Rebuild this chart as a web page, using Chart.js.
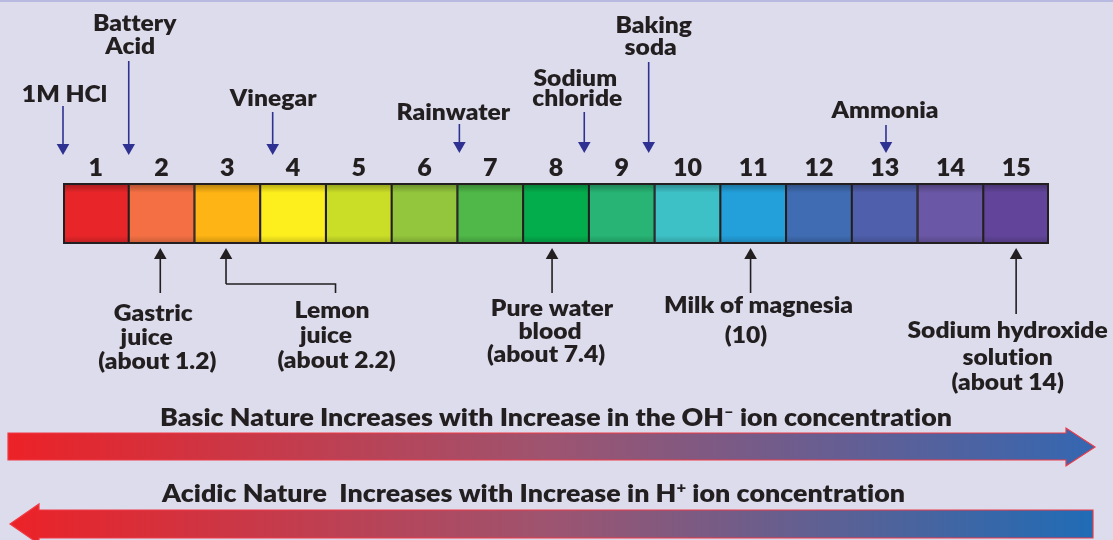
<!DOCTYPE html>
<html>
<head>
<meta charset="utf-8">
<script src="https://cdn.jsdelivr.net/npm/chart.js@4.4.1/dist/chart.umd.min.js"></script>
<style>
  html, body { margin: 0; padding: 0; background: #dddcec; }
  #wrap { width: 1113px; height: 540px; position: relative; }
  canvas { display: block; }
</style>
</head>
<body>
<div id="wrap"><canvas id="c" width="1113" height="540"></canvas></div>
<script>
// ---------- DATA ----------
const phLabels = ['1','2','3','4','5','6','7','8','9','10','11','12','13','14','15'];
const cellValues = [1,1,1,1,1,1,1,1,1,1,1,1,1,1,1];
const cellColors = ['#e82629','#f47044','#fdb414','#fdee1e','#cade28','#93c63d','#4fb848',
                    '#04ad4c','#27b474','#3ec1c6','#239fda','#3f6cb2','#4f5fab','#6a57a5','#62459a'];

const topNames = [['1M HCl'], ['Battery','Acid'], ['Vinegar'], ['Rainwater'],
                  ['Sodium','chloride'], ['Baking','soda'], ['Ammonia']];
const topPH = [0.5, 1.5, 3.69, 6.53, 8.43, 9.41, 13.02];

const bottomNames = [['Gastric','juice','(about 1.2)'], ['Lemon','juice','(about 2.2)'],
                     ['Pure water','blood','(about 7.4)'], ['Milk of magnesia','(10)'],
                     ['Sodium hydroxide','solution','(about 14)']];
const bottomPH = [1.98, 2.98, 7.94, 10.96, 15.0];

const basicCaption = [{t:'Basic Nature Increases with Increase in the OH'}, {t:'\u2013', sup:true}, {t:' ion concentration'}];
const acidicCaption = [{t:'Acidic Nature  Increases with Increase in H'}, {t:'+', sup:true}, {t:' ion concentration'}];

// ---------- LAYOUT (positions / styles) ----------
const FONT = 'Lato, "Open Sans", sans-serif';
const LABEL_WEIGHT = 800;
const LABEL_STRETCH = 1.07;
const TEXT = '#231f20';
const BLUE = '#2e3192';
const topLayout = [
  {base:[101.5], dx:[1.5], y0:106, tip:155},
  {base:[31,54], dx:[6,1.5], y0:61, tip:155},
  {base:[106], dx:[0.5], y0:112, tip:155},
  {base:[120], dx:[-6], y0:124, tip:153},
  {base:[86,105.5], dx:[-9,-7], y0:112, tip:153},
  {base:[33,55], dx:[5,2], y0:62, tip:153},
  {base:[118], dx:[-1], y0:125, tip:153}
];
const bottomLayout = [
  {base:[321,345,369], dx:[-7,-13.6,-3], tip:248, end:293},
  {base:[318,343,368], dx:[106,100,110.5], tip:248, end:293, elbowY:284, elbowDx:109.5},
  {base:[316,339,362], dx:[0,-2,-6], tip:248, end:293},
  {base:[312.7,343], dx:[8,-4.5], tip:248, end:293},
  {base:[338,364.5,390], dx:[-8.5,-8.5,-8.5], tip:248, end:314}
];

function shade(hex, f) {
  const n = parseInt(hex.slice(1), 16);
  const r = Math.round(((n >> 16) & 255) * f), g = Math.round(((n >> 8) & 255) * f), b = Math.round((n & 255) * f);
  return `rgb(${r},${g},${b})`;
}

function drawArrow(ctx, x, yFrom, yTip, color) {
  const dir = Math.sign(yTip - yFrom);
  const hl = 11, hw = 6.3;
  ctx.save();
  ctx.strokeStyle = color; ctx.fillStyle = color; ctx.lineWidth = 1.6;
  ctx.beginPath(); ctx.moveTo(x, yFrom); ctx.lineTo(x, yTip - dir * hl); ctx.stroke();
  ctx.beginPath(); ctx.moveTo(x, yTip); ctx.lineTo(x - hw, yTip - dir * hl); ctx.lineTo(x + hw, yTip - dir * hl);
  ctx.closePath(); ctx.fill();
  ctx.restore();
}

function stretchText(ctx, s, x, y) {
  ctx.save();
  ctx.translate(x, y);
  ctx.scale(LABEL_STRETCH, 1);
  ctx.fillText(s, 0, 0);
  ctx.restore();
}

function drawCaption(ctx, runs, cx, baseline, targetW) {
  ctx.save();
  if ('letterSpacing' in ctx) ctx.letterSpacing = '0.01px';
  const big = `${LABEL_WEIGHT} 24px ${FONT}`, small = `${LABEL_WEIGHT} 15px ${FONT}`;
  let w = 0;
  runs.forEach(r => { ctx.font = r.sup ? small : big; r.w = ctx.measureText(r.t).width; w += r.w; });
  const sx = targetW / w;
  ctx.translate(cx - targetW / 2, baseline);
  ctx.scale(sx, 1);
  ctx.fillStyle = TEXT; ctx.textAlign = 'left'; ctx.textBaseline = 'alphabetic';
  let x = 0;
  runs.forEach(r => { ctx.font = r.sup ? small : big; ctx.fillText(r.t, x, r.sup ? -9 : 0); x += r.w; });
  ctx.restore();
}

function bigArrow(ctx, pts, c1) {
  ctx.save();
  const g = ctx.createLinearGradient(8, 0, 1095, 0);
  g.addColorStop(0, '#ec2227'); g.addColorStop(0.5, '#9d5470'); g.addColorStop(1, c1);
  ctx.beginPath();
  pts.forEach((p, i) => i ? ctx.lineTo(p[0], p[1]) : ctx.moveTo(p[0], p[1]));
  ctx.closePath();
  ctx.fillStyle = g; ctx.fill();
  ctx.strokeStyle = '#ef3b46'; ctx.lineWidth = 1.2; ctx.stroke();
  ctx.restore();
}

const annotations = {
  id: 'annotations',
  beforeDraw(chart) {
    const ctx = chart.ctx;
    ctx.save();
    ctx.fillStyle = '#dddcec'; ctx.fillRect(0, 0, chart.width, chart.height);
    ctx.fillStyle = '#b9bae2'; ctx.fillRect(0, 0, chart.width, 2);
    ctx.restore();
  },
  afterDatasetsDraw(chart) {
    const ctx = chart.ctx, a = chart.chartArea;
    ctx.save();
    ctx.strokeStyle = TEXT; ctx.lineWidth = 2;
    ctx.strokeRect(a.left + 1, a.top + 1, a.right - a.left - 2, a.bottom - a.top - 2);
    ctx.restore();
  },
  afterDraw(chart) {
    const ctx = chart.ctx, xs = chart.scales.x;
    const px = ph => xs.getPixelForValue(ph - 1);
    ctx.save();
    if ('letterSpacing' in ctx) ctx.letterSpacing = '0.01px';
    ctx.font = `${LABEL_WEIGHT} 23px ${FONT}`; ctx.fillStyle = TEXT; ctx.textAlign = 'center'; ctx.textBaseline = 'alphabetic';
    topNames.forEach((lines, i) => {
      const L = topLayout[i], x = px(topPH[i]);
      drawArrow(ctx, x, L.y0, L.tip, BLUE);
      lines.forEach((s, j) => stretchText(ctx, s, x + L.dx[j], L.base[j]));
    });
    bottomNames.forEach((lines, i) => {
      const L = bottomLayout[i], x = px(bottomPH[i]);
      if (L.elbowY) {
        drawArrow(ctx, x, L.elbowY, L.tip, TEXT);
        ctx.save(); ctx.strokeStyle = TEXT; ctx.lineWidth = 1.6;
        ctx.beginPath(); ctx.moveTo(x, L.elbowY); ctx.lineTo(x + L.elbowDx, L.elbowY); ctx.lineTo(x + L.elbowDx, L.end); ctx.stroke();
        ctx.restore();
      } else {
        drawArrow(ctx, x, L.end, L.tip, TEXT);
      }
      lines.forEach((s, j) => stretchText(ctx, s, x + L.dx[j], L.base[j]));
    });
    ctx.restore();

    bigArrow(ctx, [[8,433],[1066,433],[1066,428],[1095,447],[1066,466],[1066,460],[8,460]], '#3467b1');
    bigArrow(ctx, [[10,524],[39,504],[39,510],[1093,510],[1093,538],[39,538],[39,544]], '#1f6cb6');
    drawCaption(ctx, basicCaption, 556, 425.7, 792);
    drawCaption(ctx, acidicCaption, 533.5, 501.7, 743);
  }
};

new Chart(document.getElementById('c'), {
  type: 'bar',
  data: {
    labels: phLabels,
    datasets: [{
      data: cellValues,
      backgroundColor: (c) => {
        const base = cellColors[c.dataIndex];
        const a = c.chart.chartArea;
        if (!a) return base;
        const g = c.chart.ctx.createLinearGradient(0, a.top, 0, a.bottom);
        g.addColorStop(0, shade(base, 0.68));
        g.addColorStop(0.16, base);
        g.addColorStop(0.86, base);
        g.addColorStop(1, shade(base, 0.8));
        return g;
      },
      borderColor: TEXT,
      borderWidth: 1.4,
      borderSkipped: false,
      barPercentage: 1,
      categoryPercentage: 1
    }]
  },
  options: {
    responsive: false,
    animation: false,
    devicePixelRatio: 1,
    layout: { padding: { left: 63, right: 64, top: 154, bottom: 296 } },
    plugins: { legend: { display: false }, tooltip: { enabled: false } },
    scales: {
      x: {
        position: 'top',
        grid: { display: false, drawTicks: false },
        border: { display: false },
        ticks: { color: TEXT, font: { family: FONT, weight: 800, size: 25 }, padding: 0, maxRotation: 0, autoSkip: false },
        afterFit(s) { s.height = 29; }
      },
      y: { display: false, min: 0, max: 1 }
    }
  },
  plugins: [annotations]
});
</script>
</body>
</html>
